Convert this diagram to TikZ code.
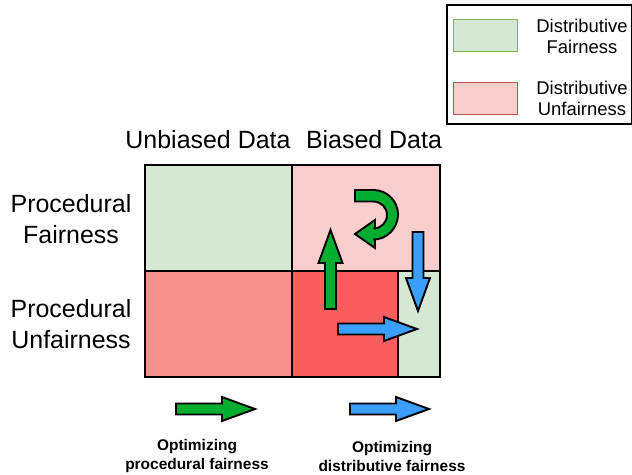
\documentclass[tikz,border=0pt]{standalone}
\usepackage{fontspec}
\setmainfont{Liberation Sans}
\definecolor{fairgreen}{HTML}{D5E8D4}
\definecolor{fairedge}{HTML}{82B366}
\definecolor{unfairpink}{HTML}{F8CECC}
\definecolor{unfairedge}{HTML}{B85450}
\definecolor{lowsalmon}{HTML}{F4918C}
\definecolor{lowred}{HTML}{F95F5F}
\definecolor{procgreen}{HTML}{00AE2F}
\definecolor{distblue}{HTML}{3A9FFF}
\tikzset{
	gridline/.style={line width=1.1pt},
	bigtext/.style={font=\fontsize{14.2}{17.6}\selectfont, align=center, inner sep=0pt},
	legtext/.style={font=\fontsize{10.5}{12}\selectfont, align=center, inner sep=0pt},
	captext/.style={font=\bfseries\fontsize{8.8}{10.8}\selectfont, align=center, inner sep=0pt},
	pics/fatarrow/.style={code={
		\draw[pic actions, line width=1.1pt, line join=miter]
			(0,-5.5) -- (46,-5.5) -- (46,-12) -- (79,0) -- (46,12) -- (46,5.5) -- (0,5.5) -- cycle;
	}}
}

\begin{document}
\begin{tikzpicture}[x=0.02cm, y=-0.02cm]
		%%%%% START %%%%%
		\useasboundingbox (0,0) rectangle (632,474);
		
		% legend
		\draw[line width=0.8pt] (447,5) rectangle (632,124);
		\draw[fill=fairgreen, draw=fairedge, line width=0.5pt] (453,19) rectangle (517,51);
		\draw[fill=unfairpink, draw=unfairedge, line width=0.5pt] (453,82) rectangle (517,114);
		\node[legtext] (legfair) at (582,36) {Distributive\\Fairness};
		\node[legtext] (legunfair) at (582,98) {Distributive\\Unfairness};
		
		% headers
		\node[bigtext] (unbiased) at (208,140) {Unbiased Data};
		\node[bigtext] (biased) at (374,140) {Biased Data};
		\node[bigtext] (procfair) at (71,219) {Procedural\\Fairness};
		\node[bigtext] (procunfair) at (71,324) {Procedural\\Unfairness};
		
		% cells
		\fill[fairgreen] (145,165) rectangle (292,271);
		\fill[unfairpink] (292,165) rectangle (440,271);
		\fill[lowsalmon] (145,271) rectangle (292,377);
		\fill[lowred] (292,271) rectangle (398,377);
		\fill[fairgreen] (398,271) rectangle (440,377);
		
		\draw[gridline] (145,165) rectangle (440,377);
		\draw[gridline] (292,165) -- (292,377);
		\draw[gridline] (145,271) -- (440,271);
		\draw[gridline] (398,271) -- (398,377);
		
		% arrows in the grid
		\pic[fill=procgreen, rotate=90] at (330.5,309) {fatarrow};
		\pic[fill=distblue, rotate=-90] at (418,232) {fatarrow};
		\pic[fill=distblue] at (338,329) {fatarrow};
		\draw[fill=procgreen, line width=1.1pt, line join=miter] (355,190) -- (373.5,190)
			.. controls (387,190) and (398,201) .. (398,214.5)
			.. controls (398,228) and (387,239.5) .. (373.5,239.5)
			-- (375,239.5) -- (375,248) -- (355,234) -- (375,220) -- (375,228.5) -- (373.5,228.5)
			.. controls (381,228.5) and (387,222.5) .. (387,215)
			.. controls (387,207.5) and (381,201.5) .. (373.5,201.5)
			-- (355,201.5) -- cycle;
		
		% key arrows
		\pic[fill=procgreen] at (176,409) {fatarrow};
		\pic[fill=distblue] at (350,409) {fatarrow};
		\node[captext] (optproc) at (197,456) {Optimizing\\procedural fairness};
		\node[captext] (optdist) at (392,456) {Optimizing\\distributive fairness};
		
		%%%%% END %%%%%
\end{tikzpicture}
\end{document}
